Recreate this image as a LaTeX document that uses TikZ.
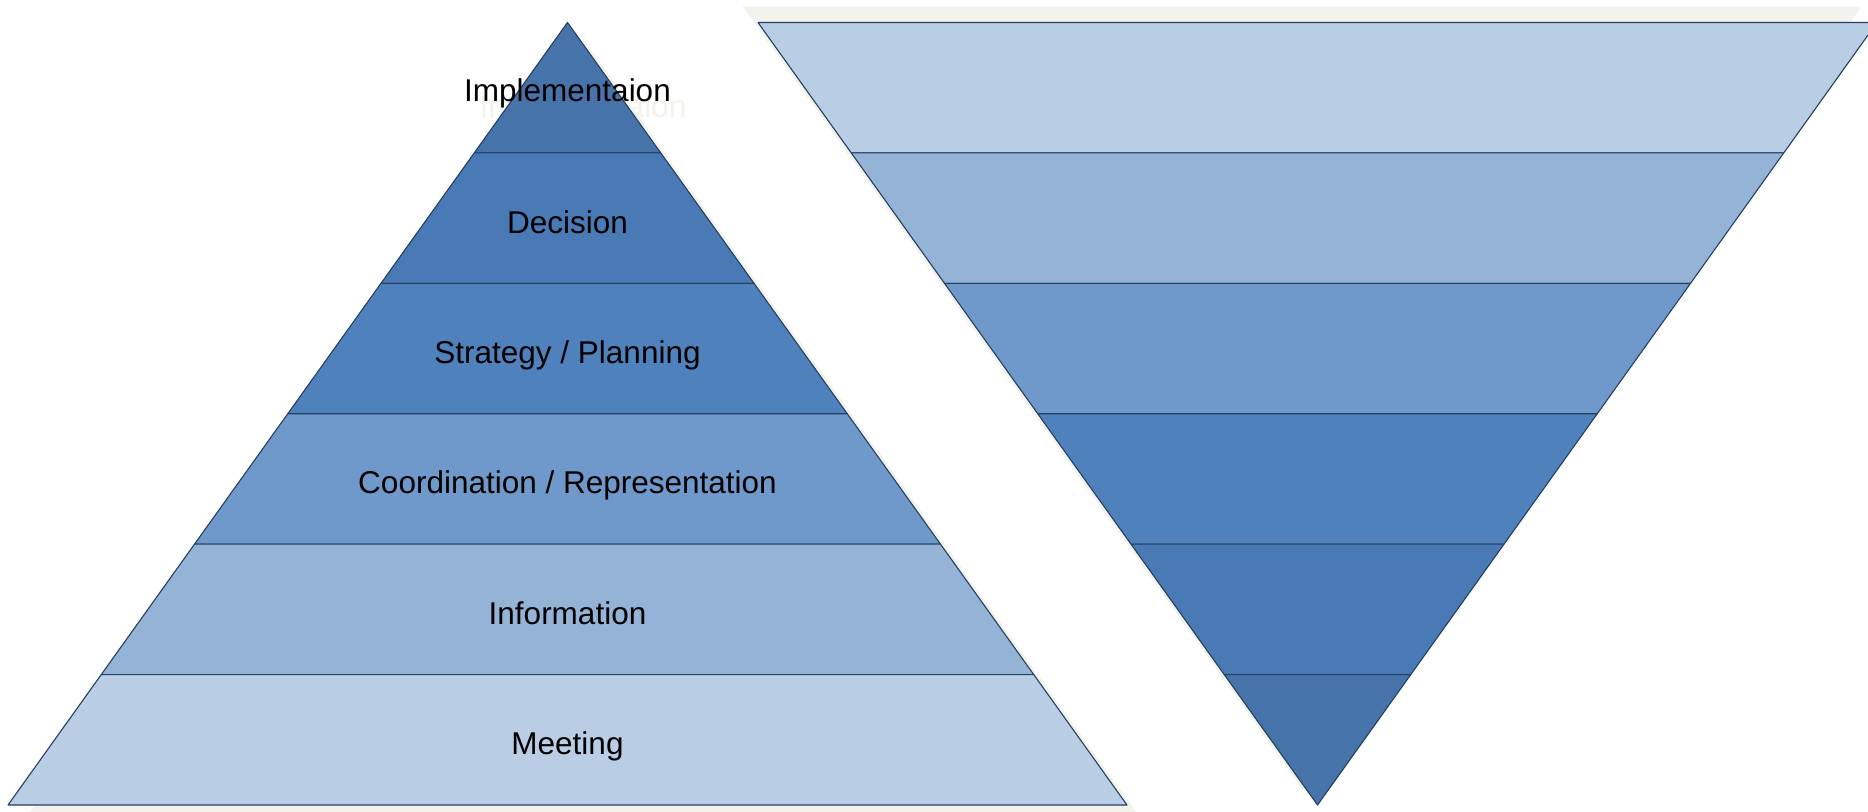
\documentclass[tikz,border=0pt]{standalone}
\usepackage{fontspec}
\setmainfont{Liberation Sans}
\definecolor{bA}{HTML}{4674AA}
\definecolor{bB}{HTML}{4A7AB5}
\definecolor{bC}{HTML}{4F81BD}
\definecolor{bD}{HTML}{7099CB}
\definecolor{bE}{HTML}{95B3D7}
\definecolor{bF}{HTML}{B9CDE5}
\definecolor{edge}{HTML}{243F60}
\definecolor{shade}{HTML}{F3F2EC}
\tikzset{
  band/.style={draw=edge, line width=1.1pt, line join=round},
  shadowfill/.style={fill=shade, draw=none},
  lbl/.style={anchor=base, inner sep=0pt, text=black, font=\fontsize{31.5}{38}\selectfont},
  ghost/.style={lbl, text=shade}
}
\begin{document}
\begin{tikzpicture}[x=1pt,y=-1pt]
\useasboundingbox (0,0) rectangle (1868,811);
\clip (0,0) rectangle (1868,811);
\fill[white] (0,0) rectangle (1868,811);
% corner coordinates
\coordinate (apexL) at (567.5,22.5);
\coordinate (blL) at (8,805);
\coordinate (brL) at (1127,805);
\coordinate (tlR) at (758,22.5);
\coordinate (trR) at (1877,22.5);
\coordinate (apexR) at (1317.5,805);
% shadows
\fill[shadowfill] ([shift={(15.5,16)}]apexL) -- ([shift={(15.5,16)}]blL) -- ([shift={(15.5,16)}]brL) -- cycle;
\fill[shadowfill] ([shift={(-15.5,-16)}]tlR) -- ([shift={(-15.5,-16)}]trR) -- ([shift={(-15.5,-16)}]apexR) -- cycle;
\node[ghost] (ghostImpl) at (583,117.5) {Implementaion};
% left pyramid bands
\foreach \k/\c in {0/bA,1/bB,2/bC,3/bD,4/bE,5/bF}{
  \pgfmathsetmacro{\ya}{22.5+130.41667*\k}
  \pgfmathsetmacro{\yb}{22.5+130.41667*(\k+1)}
  \pgfmathsetmacro{\la}{567.5-93.25*\k}
  \pgfmathsetmacro{\ra}{567.5+93.25*\k}
  \pgfmathsetmacro{\lb}{567.5-93.25*(\k+1)}
  \pgfmathsetmacro{\rb}{567.5+93.25*(\k+1)}
  \filldraw[band, fill=\c] (\la,\ya) -- (\ra,\ya) -- (\rb,\yb) -- (\lb,\yb) -- cycle;
}
% right inverted pyramid bands
\foreach \k/\c in {0/bF,1/bE,2/bD,3/bC,4/bB,5/bA}{
  \pgfmathsetmacro{\ya}{22.5+130.41667*\k}
  \pgfmathsetmacro{\yb}{22.5+130.41667*(\k+1)}
  \pgfmathsetmacro{\la}{1317.5-93.25*(6-\k)}
  \pgfmathsetmacro{\ra}{1317.5+93.25*(6-\k)}
  \pgfmathsetmacro{\lb}{1317.5-93.25*(5-\k)}
  \pgfmathsetmacro{\rb}{1317.5+93.25*(5-\k)}
  \filldraw[band, fill=\c] (\la,\ya) -- (\ra,\ya) -- (\rb,\yb) -- (\lb,\yb) -- cycle;
}
% labels
\node[lbl] (impl) at (567.5,101) {Implementaion};
\node[lbl] (dec) at (567.5,233) {Decision};
\node[lbl] (strat) at (567.5,363.3) {Strategy / Planning};
\node[lbl] (coord) at (567.5,493.7) {Coordination / Representation};
\node[lbl] (info) at (567.5,624.1) {Information};
\node[lbl] (meet) at (567.5,754.5) {Meeting};
\end{tikzpicture}
\end{document}
